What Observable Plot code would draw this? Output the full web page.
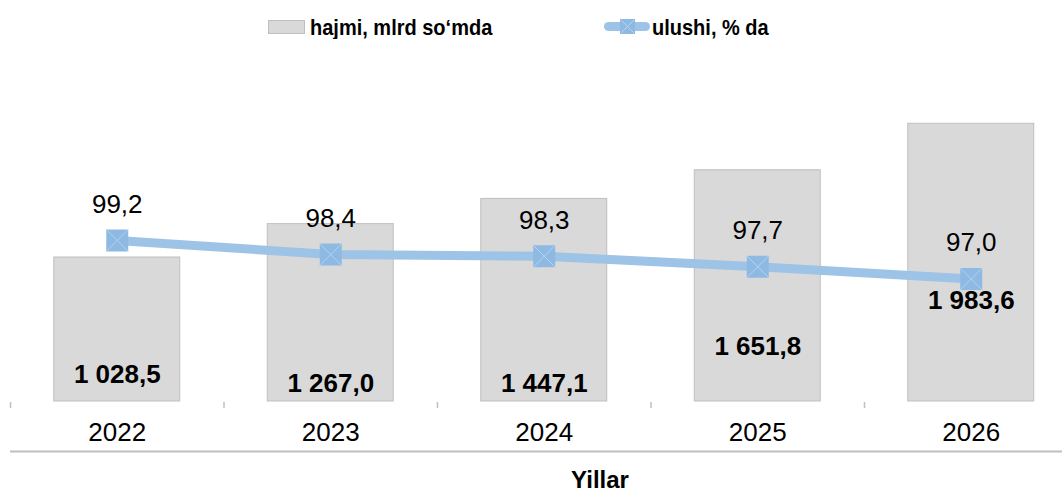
<!DOCTYPE html>
<html>
<head>
<meta charset="utf-8">
<script src="https://cdn.jsdelivr.net/npm/d3@7"></script>
<script src="https://cdn.jsdelivr.net/npm/@observablehq/plot@0.6"></script>
<style>
  html, body { margin: 0; padding: 0; background: #fff; }
  body { width: 1062px; height: 496px; overflow: hidden; font-family: "Liberation Sans", Arial, sans-serif; }
  #legend { position: relative; height: 55px; width: 1062px; }
  #legend .sw1 { position: absolute; left: 268px; top: 20px; width: 35px; height: 12px; background: #d9d9d9; border: 1px solid #bfbfbf; }
  #legend .sw2 { position: absolute; left: 604px; top: 22px; width: 46px; height: 9px; background: #9dc3e6; border-radius: 5px; }
  #legend .sw2m { position: absolute; left: 620px; top: 19px; width: 15px; height: 15px; background: #8db9e3; }
  #legend .t { position: absolute; top: 17px; font-size: 20px; font-weight: bold; line-height: 20px; color: #000; white-space: nowrap; transform: scaleY(1.08); transform-origin: left center; }
</style>
</head>
<body>
<div id="legend">
  <div class="sw1"></div><div class="t" style="left:310px">hajmi, mlrd so‘mda</div>
  <div class="sw2"></div>
  <div class="sw2m"><svg width="15" height="15"><path d="M1,1L14,14M14,1L1,14" stroke="#b4d3ef" stroke-width="1"/></svg></div>
  <div class="t" style="left:652px">ulushi, % da</div>
</div>
<div id="chart"></div>
<script>
const years = ["2022", "2023", "2024", "2025", "2026"];
const hajmi = [1028.5, 1267.0, 1447.1, 1651.8, 1983.6];   // mlrd so'm
const ulushi = [99.2, 98.4, 98.3, 97.7, 97.0];            // %
const xTitle = "Yillar";

// layout (pixel offsets of the bar value labels above the bar base)
const barLabelOffset = [27, 18, 18, 55, 101];

const data = years.map((year, i) => ({year, hajmi: hajmi[i], ulushi: ulushi[i], off: barLabelOffset[i]}));

const fmt = d3.formatLocale({decimal: ",", thousands: " ", grouping: [3]});
const fmtBar = fmt.format(",.1f");
const fmtPct = fmt.format(".1f");

const W = 1062, H = 441, mTop = 66, mBottom = 95, mLeft = 10;
const yDomain = [0, 2000];
const y2Domain = [90, 106];
const yPx = d3.scaleLinear(yDomain, [H - mBottom, mTop]);
const toPrimary = d3.scaleLinear(y2Domain, yDomain);
const step = (1077.5 - mLeft) / years.length;
const base = H - mBottom;

const crossSymbol = {
  draw(context, size) {
    const h = Math.sqrt(size / Math.PI) * 0.886;
    context.moveTo(-h, -h); context.lineTo(h, h);
    context.moveTo(h, -h); context.lineTo(-h, h);
  }
};

const chart = Plot.plot({
  width: W,
  height: H,
  marginTop: mTop,
  marginBottom: mBottom,
  marginLeft: mLeft,
  marginRight: 0,
  style: {fontFamily: '"Liberation Sans", Arial, sans-serif', color: "#000", background: "#fff"},
  x: {domain: years, range: [mLeft, 1077.5], paddingInner: 0.41, paddingOuter: 0.205, round: false, axis: null},
  y: {domain: yDomain, axis: null},
  marks: [
    Plot.barY(data, {x: "year", y: "hajmi", fill: "#d9d9d9", stroke: "#bfbfbf", strokeWidth: 1}),
    Plot.ruleX(data, {x: "year", dx: -step / 2, y1: yPx.invert(base + 1), y2: yPx.invert(base + 7), stroke: "#bfbfbf", strokeWidth: 1.5}),
    Plot.ruleY([yPx.invert(base + 50)], {stroke: "#bfbfbf", strokeWidth: 2}),
    Plot.text(data, {x: "year", y: 0, text: "year", dy: 31, fontSize: 26, fill: "#000"}),
    Plot.text([xTitle], {frameAnchor: "bottom", dx: 63.5, dy: 86.5, fontSize: 24, fontWeight: "bold", fill: "#000"}),
    Plot.line(data, {x: "year", y: d => toPrimary(d.ulushi), stroke: "#9dc3e6", strokeWidth: 9}),
    Plot.dot(data, {x: "year", y: d => toPrimary(d.ulushi), symbol: "square", r: 12.4, fill: "#8db9e3"}),
    Plot.dot(data, {x: "year", y: d => toPrimary(d.ulushi), symbol: crossSymbol, r: 12.4, stroke: "#b4d3ef", strokeWidth: 1, fill: "none"}),
    Plot.text(data, {x: "year", y: d => toPrimary(d.ulushi), text: d => fmtPct(d.ulushi), dy: -36, fontSize: 26, fill: "#000"}),
    Plot.text(data, {x: "year", y: d => yPx.invert(base - d.off), text: d => fmtBar(d.hajmi), fontSize: 26, fontWeight: "bold", fill: "#000"})
  ]
});
document.getElementById("chart").appendChild(chart);
</script>
</body>
</html>
